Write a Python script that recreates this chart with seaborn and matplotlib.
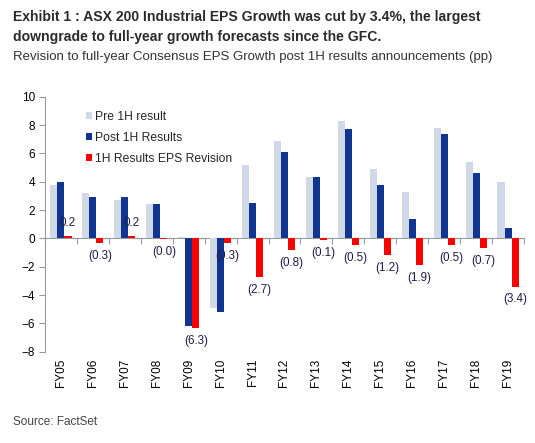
import numpy as np
import pandas as pd
import matplotlib
matplotlib.use('Agg')
import matplotlib.pyplot as plt
import seaborn as sns

# 数据
years = ['FY05', 'FY06', 'FY07', 'FY08', 'FY09', 'FY10', 'FY11', 'FY12',
         'FY13', 'FY14', 'FY15', 'FY16', 'FY17', 'FY18', 'FY19']
pre_1h = [3.8, 3.2, 2.7, 2.4, 0.1, -4.9, 5.2, 6.9, 4.3, 8.3, 4.9, 3.3, 7.8, 5.4, 4.0]
post_1h = [4.0, 2.9, 2.9, 2.4, -6.2, -5.2, 2.5, 6.1, 4.3, 7.7, 3.8, 1.4, 7.4, 4.6, 0.7]
revision = [0.2, -0.3, 0.2, -0.02, -6.3, -0.3, -2.7, -0.8, -0.1, -0.5, -1.2, -1.9, -0.5, -0.7, -3.4]
series_names = ['Pre 1H result', 'Post 1H Results', '1H Results EPS Revision']
colors = ['#d0d8e9', '#0f3591', '#ff0000']

title_1 = 'Exhibit 1 : ASX 200 Industrial EPS Growth was cut by 3.4%, the largest'
title_2 = 'downgrade to full-year growth forecasts since the GFC.'
subtitle = 'Revision to full-year Consensus EPS Growth post 1H results announcements (pp)'
source = 'Source: FactSet'

df = pd.DataFrame({'year': years * 3,
                   'series': np.repeat(series_names, len(years)),
                   'value': pre_1h + post_1h + revision})

sns.set_style('white')
plt.rcParams['font.family'] = ['Liberation Sans', 'DejaVu Sans']

fig = plt.figure(figsize=(5.35, 4.43), dpi=100)
ax = fig.add_axes([45 / 535, 1 - 351.7 / 443, 479 / 535, 255 / 443])

sns.barplot(data=df, x='year', y='value', hue='series', hue_order=series_names,
            palette=colors, width=0.66, saturation=1, linewidth=0, ax=ax, errorbar=None)

ax.set_ylim(-8, 10)
ax.set_xlim(-0.5, len(years) - 0.5)
ax.set_yticks(range(-8, 11, 2))
ax.set_xlabel('')
ax.set_ylabel('')

# 坐标轴样式
for s in ['top', 'right', 'bottom']:
    ax.spines[s].set_visible(False)
ax.spines['left'].set_color('#999999')
ax.tick_params(axis='y', left=True, length=4, color='#999999', labelsize=8.5,
               labelcolor='black', pad=3)
ax.tick_params(axis='x', bottom=False, length=0, labelsize=8.5, labelrotation=90,
               labelcolor='black', pad=5)

# 零线及分隔刻度
zero_ax = ax.secondary_xaxis(8 / 18)
zero_ax.set_xticks(np.arange(-0.5, len(years), 1.0))
zero_ax.tick_params(axis='x', direction='out', length=4, color='#999999', labelbottom=False)
zero_ax.spines['bottom'].set_color('#999999')

# 修订值标签
rev_labels = [f'({abs(v):.1f})' if v < 0 else f'{v:.1f}' for v in revision]
ax.bar_label(ax.containers[2], labels=rev_labels, padding=5, fontsize=8.4,
             color='#1c1c4c', zorder=10)

# 图例
leg = ax.legend(loc='upper left', bbox_to_anchor=(0.085, 0.944), frameon=False,
                fontsize=8.7, handlelength=0.55, handleheight=0.55, handletextpad=0.25,
                labelspacing=0.75, borderaxespad=0, borderpad=0)

fig.text(13 / 535, 1 - 16.5 / 443, title_1, fontsize=10.1, fontweight='bold',
         color='#2b2b2b', va='center', ha='left')
fig.text(13 / 535, 1 - 37 / 443, title_2, fontsize=10.1, fontweight='bold',
         color='#2b2b2b', va='center', ha='left')
fig.text(13 / 535, 1 - 57 / 443, subtitle, fontsize=9.5,
         color='#333333', va='center', ha='left')
fig.text(13 / 535, 1 - 422 / 443, source, fontsize=8.5,
         color='#444444', va='center', ha='left')

fig.savefig('out.png', dpi=100)
